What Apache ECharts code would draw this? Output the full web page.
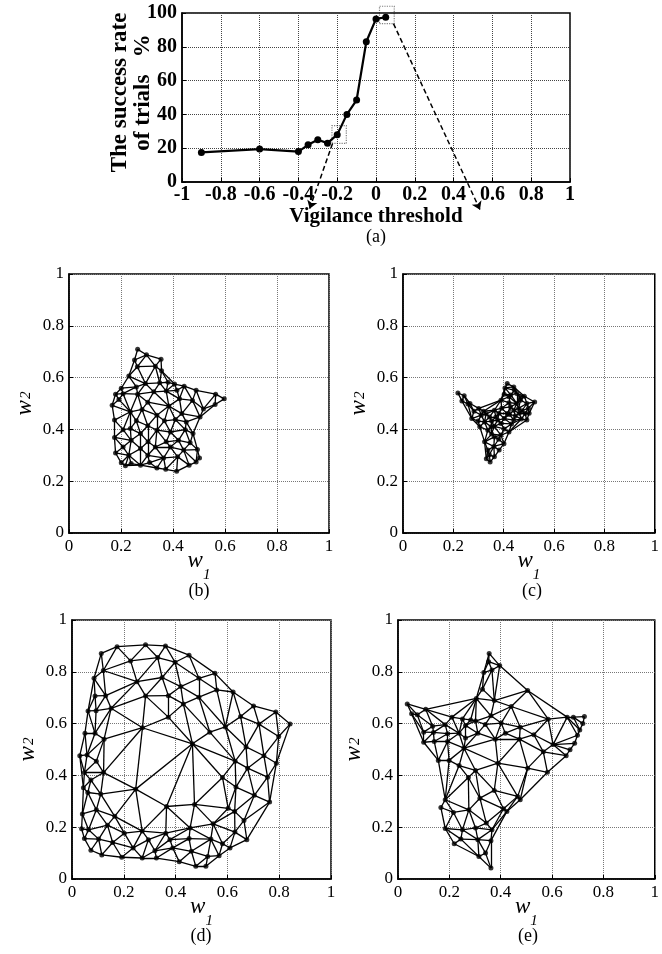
<!DOCTYPE html>
<html><head><meta charset="utf-8">
<script src="https://cdn.jsdelivr.net/npm/echarts@6/dist/echarts.min.js"></script>
<style>html,body{margin:0;padding:0;background:#fff}#c{width:662px;height:954px}</style>
</head><body><div id="c"></div>
<script>
// ---------- data ----------
const thresholdTicks = [-1, -0.8, -0.6, -0.4, -0.2, 0, 0.2, 0.4, 0.6, 0.8, 1];
const rateTicks = [0, 20, 40, 60, 80, 100];
const wTicks = [0, 0.2, 0.4, 0.6, 0.8, 1];

const vigilance = [-0.9, -0.6, -0.4, -0.35, -0.3, -0.25, -0.2, -0.15, -0.1, -0.05, 0, 0.05];
const successRate = [17.5, 19.5, 18, 22, 25, 23, 28, 40, 48.5, 83, 96.5, 97.5];

// dotted zoom boxes [x1, y1, x2, y2] and dashed arrows [from, to] in panel (a)
const zoomBoxes = [[-0.227, 22.8, -0.153, 33.3], [0.018, 93.7, 0.094, 104]];
const zoomArrows = [[[-0.224, 22.8], [-0.342, -15.8]], [[0.09, 93.7], [0.536, -16.4]]];

// network nodes [w1, w2]
const nodesB = [
 [0.264,0.709],[0.298,0.688],[0.354,0.671],[0.252,0.668],[0.332,0.644],[0.263,0.642],[0.230,0.606],[0.356,0.626],
 [0.294,0.577],[0.349,0.580],[0.381,0.582],[0.406,0.575],[0.443,0.567],[0.201,0.559],[0.259,0.564],[0.179,0.536],
 [0.208,0.538],[0.264,0.536],[0.326,0.545],[0.374,0.548],[0.415,0.551],[0.489,0.551],[0.564,0.536],[0.597,0.518],
 [0.192,0.515],[0.166,0.493],[0.303,0.505],[0.384,0.490],[0.425,0.518],[0.475,0.512],[0.562,0.496],[0.517,0.479],
 [0.236,0.468],[0.281,0.477],[0.338,0.455],[0.434,0.461],[0.504,0.448],[0.175,0.436],[0.259,0.433],[0.367,0.433],
 [0.409,0.438],[0.451,0.429],[0.303,0.414],[0.208,0.399],[0.236,0.403],[0.275,0.384],[0.338,0.397],[0.390,0.390],
 [0.447,0.399],[0.477,0.384],[0.175,0.369],[0.239,0.358],[0.304,0.352],[0.374,0.352],[0.421,0.358],[0.466,0.348],
 [0.208,0.332],[0.275,0.326],[0.332,0.332],[0.390,0.332],[0.441,0.320],[0.494,0.322],[0.179,0.309],[0.230,0.300],
 [0.303,0.300],[0.364,0.290],[0.418,0.294],[0.502,0.290],[0.201,0.271],[0.239,0.268],[0.275,0.262],[0.310,0.272],
 [0.338,0.251],[0.372,0.246],[0.414,0.238],[0.462,0.262],[0.489,0.274],[0.217,0.260]
];
const nodesC = [
 [0.218,0.541],[0.243,0.530],[0.234,0.510],[0.301,0.481],[0.273,0.442],[0.311,0.455],[0.344,0.448],[0.414,0.577],
 [0.440,0.564],[0.402,0.536],[0.452,0.539],[0.467,0.513],[0.523,0.506],[0.492,0.500],[0.485,0.461],[0.492,0.436],
 [0.414,0.461],[0.376,0.436],[0.324,0.429],[0.305,0.410],[0.350,0.410],[0.389,0.423],[0.324,0.352],[0.337,0.320],
 [0.331,0.287],[0.346,0.274],[0.363,0.294],[0.382,0.320],[0.401,0.345],[0.421,0.390],[0.440,0.436],[0.459,0.481],
 [0.427,0.487],[0.389,0.513],[0.363,0.474],[0.337,0.397],[0.363,0.371],[0.389,0.378],[0.421,0.526],[0.440,0.474],
 [0.369,0.448],[0.266,0.500],[0.405,0.560],[0.470,0.440],
 [0.330,0.460],[0.352,0.432],[0.381,0.462],[0.402,0.442],[0.423,0.458],[0.446,0.452],[0.462,0.462],[0.362,0.412],
 [0.402,0.402],[0.431,0.421],[0.452,0.500],[0.421,0.503],[0.392,0.482],[0.298,0.432],[0.352,0.382],[0.380,0.362],
 [0.361,0.334],[0.343,0.302],[0.473,0.472],[0.501,0.462],[0.482,0.528],[0.443,0.551],[0.428,0.533],[0.320,0.470],
 [0.282,0.470],[0.258,0.498],[0.465,0.525],[0.498,0.482]
];
const nodesD = [
 [0.113,0.871],[0.174,0.897],[0.284,0.904],[0.361,0.900],[0.452,0.864],[0.226,0.842],[0.331,0.855],[0.398,0.837],
 [0.552,0.794],[0.121,0.805],[0.085,0.775],[0.251,0.762],[0.348,0.778],[0.420,0.743],[0.490,0.775],[0.559,0.730],
 [0.622,0.722],[0.089,0.707],[0.130,0.708],[0.284,0.707],[0.372,0.708],[0.490,0.702],[0.430,0.676],[0.701,0.668],
 [0.062,0.649],[0.093,0.650],[0.151,0.659],[0.651,0.627],[0.787,0.645],[0.050,0.563],[0.089,0.563],[0.272,0.584],
 [0.372,0.625],[0.592,0.587],[0.722,0.598],[0.842,0.598],[0.124,0.540],[0.532,0.567],[0.798,0.550],[0.030,0.476],
 [0.058,0.479],[0.094,0.455],[0.465,0.522],[0.672,0.510],[0.741,0.476],[0.789,0.447],[0.630,0.455],[0.048,0.411],
 [0.122,0.411],[0.073,0.382],[0.581,0.392],[0.678,0.428],[0.755,0.393],[0.044,0.352],[0.061,0.334],[0.111,0.328],
 [0.246,0.347],[0.633,0.355],[0.704,0.323],[0.763,0.297],[0.365,0.280],[0.040,0.251],[0.094,0.267],[0.473,0.288],
 [0.603,0.273],[0.628,0.261],[0.664,0.226],[0.165,0.242],[0.037,0.194],[0.064,0.190],[0.137,0.208],[0.271,0.185],
 [0.362,0.177],[0.456,0.197],[0.545,0.213],[0.629,0.181],[0.048,0.156],[0.103,0.154],[0.202,0.177],[0.295,0.152],
 [0.378,0.152],[0.452,0.156],[0.536,0.154],[0.675,0.152],[0.157,0.141],[0.236,0.120],[0.320,0.109],[0.389,0.120],
 [0.461,0.107],[0.581,0.136],[0.610,0.120],[0.073,0.111],[0.115,0.093],[0.192,0.084],[0.271,0.081],[0.326,0.081],
 [0.414,0.067],[0.478,0.049],[0.517,0.049],[0.524,0.087],[0.568,0.090]
];
const nodesE = [
 [0.355,0.871],[0.353,0.839],[0.396,0.824],[0.366,0.807],[0.334,0.797],[0.329,0.733],[0.305,0.697],[0.375,0.689],
 [0.505,0.728],[0.441,0.666],[0.362,0.630],[0.036,0.676],[0.108,0.655],[0.053,0.638],[0.075,0.634],[0.210,0.625],
 [0.251,0.618],[0.283,0.614],[0.302,0.610],[0.585,0.617],[0.659,0.625],[0.683,0.625],[0.726,0.627],[0.340,0.597],
 [0.263,0.593],[0.402,0.602],[0.476,0.586],[0.720,0.600],[0.184,0.596],[0.135,0.590],[0.100,0.567],[0.138,0.566],
 [0.193,0.561],[0.238,0.563],[0.311,0.563],[0.418,0.563],[0.529,0.557],[0.708,0.575],[0.699,0.555],[0.100,0.528],
 [0.141,0.531],[0.193,0.531],[0.263,0.544],[0.379,0.540],[0.473,0.540],[0.604,0.519],[0.688,0.524],[0.257,0.505],
 [0.566,0.491],[0.670,0.499],[0.655,0.476],[0.157,0.458],[0.199,0.458],[0.238,0.438],[0.389,0.447],[0.505,0.428],
 [0.302,0.419],[0.274,0.392],[0.582,0.412],[0.375,0.342],[0.466,0.319],[0.476,0.306],[0.184,0.306],[0.167,0.276],
 [0.319,0.312],[0.276,0.267],[0.216,0.257],[0.411,0.271],[0.424,0.261],[0.344,0.216],[0.366,0.190],[0.184,0.195],
 [0.251,0.190],[0.302,0.197],[0.245,0.154],[0.311,0.152],[0.362,0.148],[0.219,0.136],[0.341,0.100],[0.315,0.087],
 [0.362,0.042]
];

// ---------- mesh links from the node positions (Delaunay, trimmed by circumradius) ----------
function circ(P, t) {
  const [ax, ay] = P[t[0]], [bx, by] = P[t[1]], [cx, cy] = P[t[2]];
  const d = 2 * (ax * (by - cy) + bx * (cy - ay) + cx * (ay - by));
  const a2 = ax * ax + ay * ay, b2 = bx * bx + by * by, c2 = cx * cx + cy * cy;
  const ux = (a2 * (by - cy) + b2 * (cy - ay) + c2 * (ay - by)) / d;
  const uy = (a2 * (cx - bx) + b2 * (ax - cx) + c2 * (bx - ax)) / d;
  return [ux, uy, (ax - ux) * (ax - ux) + (ay - uy) * (ay - uy)];
}
function meshLinks(nodes, rMax) {
  const n = nodes.length;
  const P = nodes.concat([[-10, -10], [10, -10], [0, 10]]);
  let tris = [[n, n + 1, n + 2]].map(t => ({ t, c: circ(P, t) }));
  for (let i = 0; i < n; i++) {
    const [px, py] = P[i];
    const bad = [], keep = [];
    for (const o of tris) {
      const dx = px - o.c[0], dy = py - o.c[1];
      (dx * dx + dy * dy < o.c[2] ? bad : keep).push(o);
    }
    const cnt = new Map();
    for (const o of bad) {
      const t = o.t;
      for (const [a, b] of [[t[0], t[1]], [t[1], t[2]], [t[2], t[0]]]) {
        const k = a < b ? a + ',' + b : b + ',' + a;
        const e = cnt.get(k);
        if (e) e.n++; else cnt.set(k, { a, b, n: 1 });
      }
    }
    for (const e of cnt.values()) if (e.n === 1) {
      const t = [e.a, e.b, i];
      keep.push({ t, c: circ(P, t) });
    }
    tris = keep;
  }
  const seen = new Set(), links = [];
  for (const o of tris) {
    const t = o.t;
    if (t.some(v => v >= n)) continue;
    if (Math.sqrt(o.c[2]) > rMax) continue;
    for (const [a, b] of [[t[0], t[1]], [t[1], t[2]], [t[2], t[0]]]) {
      const k = a < b ? a + ',' + b : b + ',' + a;
      if (!seen.has(k)) { seen.add(k); links.push({ coords: [nodes[a], nodes[b]] }); }
    }
  }
  return links;
}

// ---------- chart ----------
const FONT = 'Liberation Serif';
const grids = [
  { left: 182, top: 13, width: 388, height: 169 },
  { left: 69, top: 274, width: 260, height: 259 },
  { left: 403, top: 274, width: 258, height: 259 },
  { left: 72, top: 620, width: 259, height: 259 },
  { left: 398, top: 620, width: 260, height: 259 }
].map(g => Object.assign(g, { show: true, borderColor: '#000', borderWidth: 1.5, backgroundColor: 'transparent' }));

function range(ticks) { return { min: ticks[0], max: ticks[ticks.length - 1], interval: +(ticks[1] - ticks[0]).toFixed(6) }; }

const wRichX = {
  w: { fontFamily: FONT, fontStyle: 'italic', fontSize: 23, color: '#000', verticalAlign: 'top' },
  s: { fontFamily: FONT, fontStyle: 'italic', fontSize: 15, color: '#000', verticalAlign: 'top', padding: [19, 0, 0, 0] }
};
const wRichY = {
  w: { fontFamily: FONT, fontStyle: 'italic', fontSize: 23, color: '#000', verticalAlign: 'top' },
  s: { fontFamily: FONT, fontStyle: 'italic', fontSize: 15, color: '#000', verticalAlign: 'top', padding: [6, 0, 0, 1] }
};

function meshAxis(gi, dim) {
  return Object.assign({
    type: 'value', gridIndex: gi,
    name: dim === 'x' ? '{w|w}{s|1}' : '{w|w}{s|2}',
    nameLocation: 'middle',
    nameMoveOverlap: false,
    nameGap: dim === 'x' ? 16 : 33,
    nameTextStyle: { rich: dim === 'x' ? wRichX : wRichY },
    axisLine: { show: true, onZero: false, lineStyle: { color: '#000', width: 1.5 } },
    axisTick: { show: true, inside: true, length: 4, lineStyle: { color: '#000' } },
    axisLabel: { fontFamily: FONT, fontSize: 17, color: '#000', margin: 5 },
    splitLine: { show: true, lineStyle: { type: 'dotted', color: '#777', width: 1 } }
  }, range(wTicks));
}

const xAxes = [
  Object.assign({
    type: 'value', gridIndex: 0,
    name: 'Vigilance threshold', nameLocation: 'middle', nameGap: 24, nameMoveOverlap: false,
    nameTextStyle: { fontFamily: FONT, fontWeight: 'bold', fontSize: 21, color: '#000' },
    axisLine: { show: true, onZero: false, lineStyle: { color: '#000', width: 1.5 } },
    axisTick: { show: true, inside: true, length: 4, lineStyle: { color: '#000' } },
    axisLabel: { fontFamily: FONT, fontWeight: 'bold', fontSize: 20, color: '#000', margin: 3 },
    splitLine: { show: true, lineStyle: { type: 'dotted', color: '#444', width: 1 } }
  }, range(thresholdTicks)),
  meshAxis(1, 'x'), meshAxis(2, 'x'), meshAxis(3, 'x'), meshAxis(4, 'x')
];
const yAxes = [
  Object.assign({
    type: 'value', gridIndex: 0,
    name: 'The success rate\nof trials   %', nameLocation: 'middle', nameGap: 27, nameMoveOverlap: false,
    nameTextStyle: { fontFamily: FONT, fontWeight: 'bold', fontSize: 23, lineHeight: 23, color: '#000', padding: [0, 0, 0, 10] },
    axisLine: { show: true, onZero: false, lineStyle: { color: '#000', width: 1.5 } },
    axisTick: { show: true, inside: true, length: 4, lineStyle: { color: '#000' } },
    axisLabel: { fontFamily: FONT, fontWeight: 'bold', fontSize: 20, color: '#000', margin: 5 },
    splitLine: { show: true, lineStyle: { type: 'dotted', color: '#444', width: 1 } }
  }, range(rateTicks)),
  meshAxis(1, 'y'), meshAxis(2, 'y'), meshAxis(3, 'y'), meshAxis(4, 'y')
];

const panels = [
  { nodes: nodesB, r: 0.07 },
  { nodes: nodesC, r: 0.08 },
  { nodes: nodesD, r: 0.25 },
  { nodes: nodesE, r: 0.13 }
];

const series = [
  {
    type: 'line', xAxisIndex: 0, yAxisIndex: 0,
    data: vigilance.map((v, i) => [v, successRate[i]]),
    symbol: 'circle', symbolSize: 7, showSymbol: true,
    lineStyle: { color: '#000', width: 2.2 }, itemStyle: { color: '#000' }, z: 5
  },
  {
    type: 'lines', coordinateSystem: 'cartesian2d', xAxisIndex: 0, yAxisIndex: 0,
    polyline: true, clip: false, silent: true,
    lineStyle: { color: '#000', width: 1.2, type: 'dotted' },
    data: zoomBoxes.map(b => ({ coords: [[b[0], b[1]], [b[2], b[1]], [b[2], b[3]], [b[0], b[3]], [b[0], b[1]]] }))
  },
  {
    type: 'lines', coordinateSystem: 'cartesian2d', xAxisIndex: 0, yAxisIndex: 0,
    clip: false, silent: true, symbol: ['none', 'arrow'], symbolSize: 8,
    lineStyle: { color: '#000', width: 1.5, type: [5, 3], opacity: 1 },
    data: zoomArrows.map(a => ({ coords: a }))
  }
];
panels.forEach((p, k) => {
  const gi = k + 1;
  series.push({
    type: 'lines', coordinateSystem: 'cartesian2d', xAxisIndex: gi, yAxisIndex: gi,
    silent: true, lineStyle: { color: '#000', width: 1.3, opacity: 1 },
    data: meshLinks(p.nodes, p.r)
  });
  series.push({
    type: 'scatter', xAxisIndex: gi, yAxisIndex: gi, symbolSize: 5,
    itemStyle: { color: '#000' }, data: p.nodes, z: 4
  });
});

const labelStyle = { fontFamily: FONT, fontSize: 18, fontWeight: 'normal', color: '#000' };
const titles = [
  ['(a)', 376, 228], ['(b)', 199, 582], ['(c)', 532, 582], ['(d)', 201, 927], ['(e)', 528, 927]
].map(([t, x, y]) => ({ text: t, left: x, top: y, textAlign: 'center', padding: 0, textStyle: labelStyle }));

const chart = echarts.init(document.getElementById('c'), null, { renderer: 'canvas' });
chart.setOption({
  animation: false,
  backgroundColor: '#fff',
  title: titles,
  grid: grids,
  xAxis: xAxes,
  yAxis: yAxes,
  series
});
</script></body></html>
